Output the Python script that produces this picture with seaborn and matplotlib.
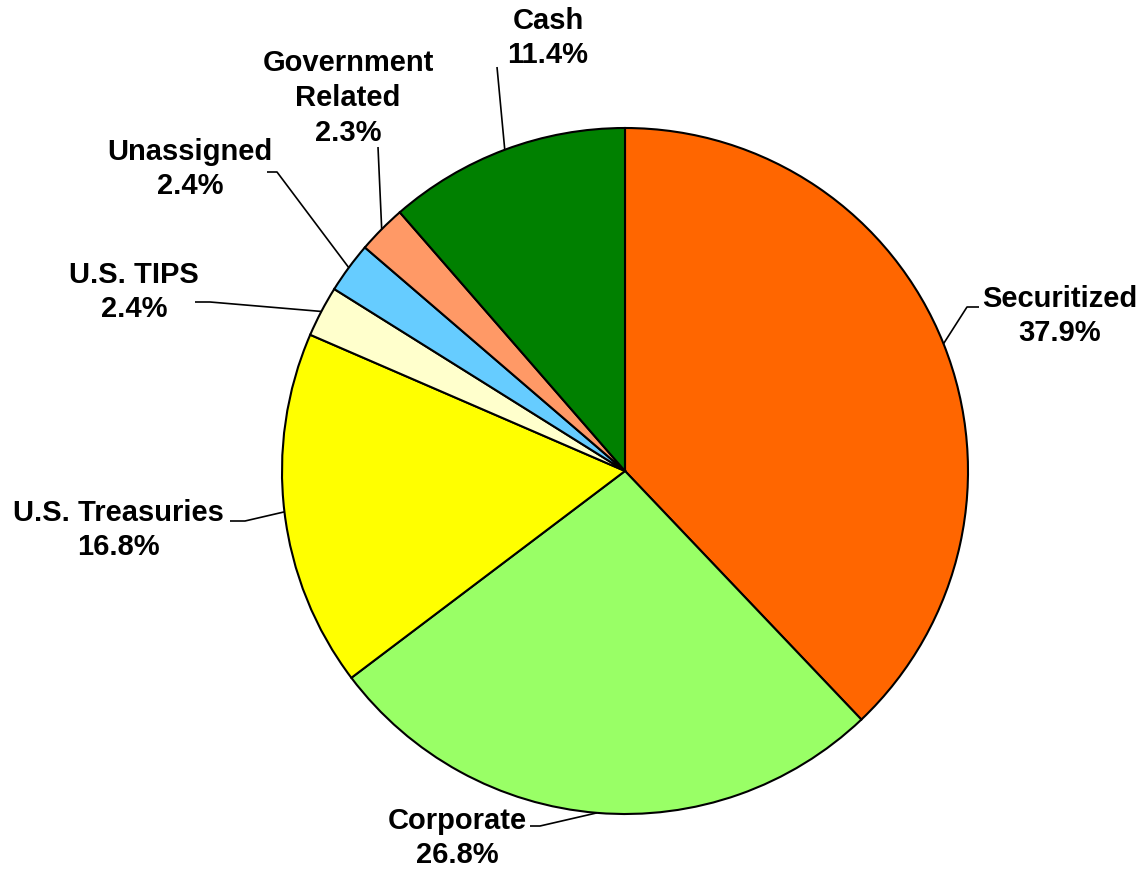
import numpy as np
import seaborn as sns
import matplotlib.pyplot as plt

# 数据
sectors = ['Securitized', 'Corporate', 'U.S. Treasuries', 'U.S. TIPS',
           'Unassigned', 'Government\nRelated', 'Cash']
weights = [37.9, 26.8, 16.8, 2.4, 2.4, 2.3, 11.4]
colors = ['#FF6600', '#99FF66', '#FFFF00', '#FFFFCC', '#66CCFF', '#FF9966', '#008000']

# 标签位置 (像素坐标, y 向下)
label_pos = [(1060, 316), (457, 838), (118, 530), (134, 292),
             (190, 169), (348, 98), (548, 38)]
elbow_pos = [(967, 307), (540, 826), (245, 521), (210, 302),
             (277, 172), (378, 147), (497, 67)]
stub_end = [(979, 307), (530, 826), (230, 521), (195, 302),
            (267, 172), None, None]

W, H = 1142, 869
cx, cy, r = 625, 471, 343

sns.set_theme(style='white')
plt.rcParams['font.family'] = ['Liberation Sans', 'DejaVu Sans']

fig = plt.figure(figsize=(W / 100, H / 100), dpi=100)
ax = fig.add_axes([0, 0, 1, 1])

wedges, _ = ax.pie(weights, colors=colors, startangle=90, counterclock=False,
                   center=(cx, H - cy), radius=r,
                   wedgeprops=dict(edgecolor='black', linewidth=1.5))
ax.set_xlim(0, W)
ax.set_ylim(0, H)
ax.set_aspect('equal')
ax.axis('off')

for w, name, val, (tx, ty), elb, stub in zip(wedges, sectors, weights, label_pos, elbow_pos, stub_end):
    mid = np.deg2rad((w.theta1 + w.theta2) / 2)
    ex = cx + r * np.cos(mid)
    ey = (H - cy) + r * np.sin(mid)
    xs = [ex, elb[0]]
    ys = [ey, H - elb[1]]
    if stub is not None:
        xs.append(stub[0])
        ys.append(H - stub[1])
    ax.plot(xs, ys, color='black', lw=1.2, solid_capstyle='butt')
    ax.text(tx, H - ty, f'{name}\n{val:.1f}%', ha='center', va='center',
            fontsize=21, fontweight='bold', linespacing=1.3, color='black')

plt.savefig('out.png', dpi=100)
